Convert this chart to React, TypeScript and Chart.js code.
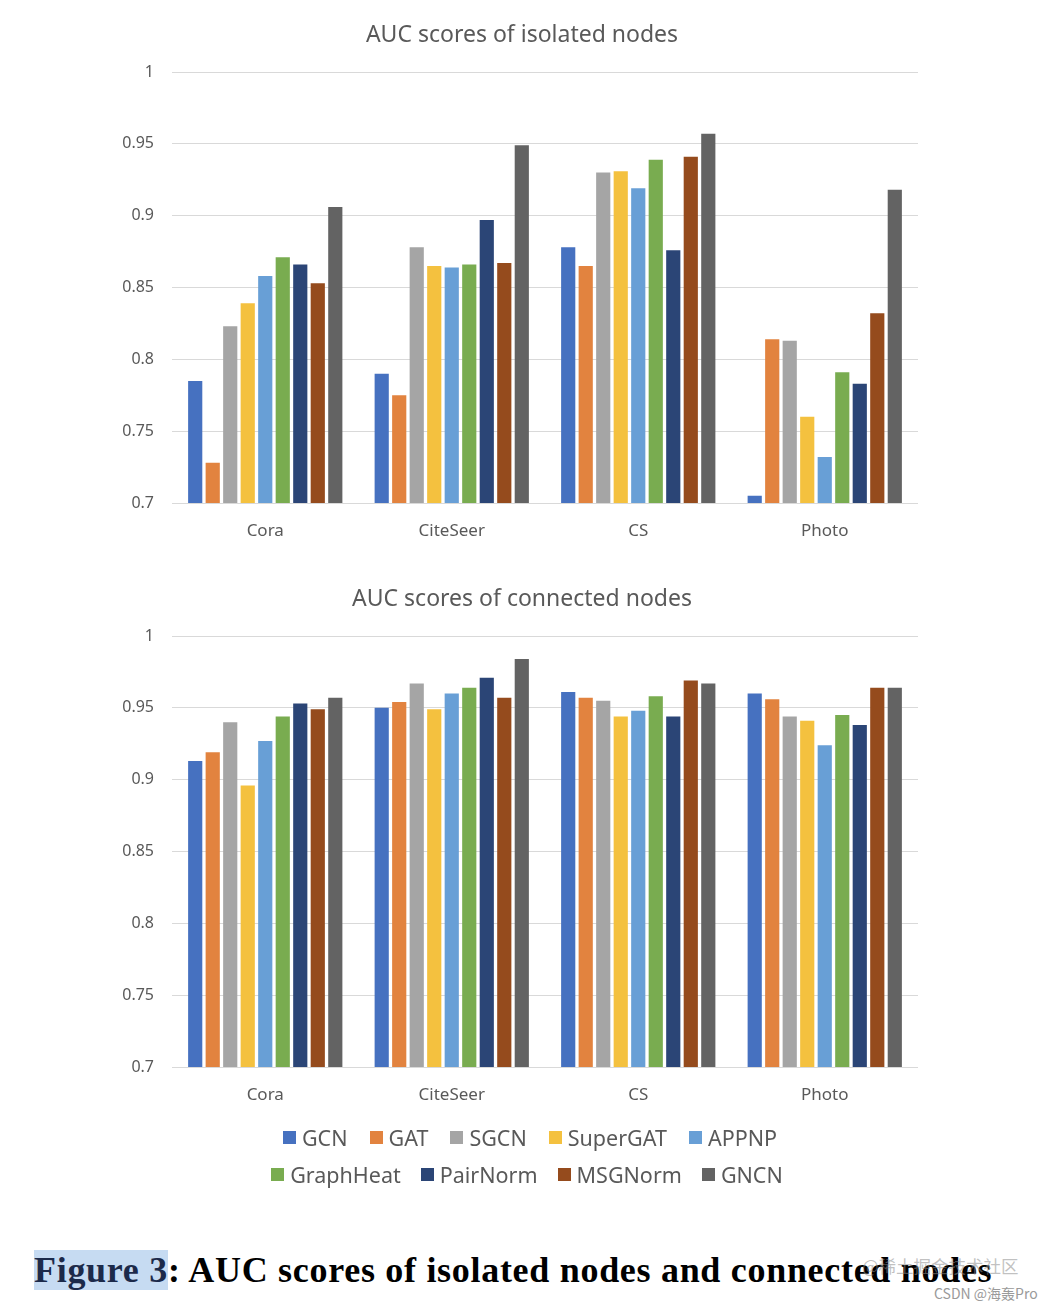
import React, { useEffect, useRef } from "react";
import { Chart, registerables } from "chart.js";

Chart.register(...registerables);

const categories = ["Cora", "CiteSeer", "CS", "Photo"];
const methods = ["GCN", "GAT", "SGCN", "SuperGAT", "APPNP", "GraphHeat", "PairNorm", "MSGNorm", "GNCN"];
const methodColors = ["#4671C0", "#E2833F", "#A5A5A5", "#F4C13F", "#689FD6", "#79AC50", "#2B4576", "#954B1D", "#636363"];
const yTicks = [0.7, 0.75, 0.8, 0.85, 0.9, 0.95, 1];

// AUC scores of isolated nodes (Cora, CiteSeer, CS, Photo)
const gcnIso = [0.785, 0.79, 0.878, 0.705];
const gatIso = [0.728, 0.775, 0.865, 0.814];
const sgcnIso = [0.823, 0.878, 0.93, 0.813];
const superGatIso = [0.839, 0.865, 0.931, 0.76];
const appnpIso = [0.858, 0.864, 0.919, 0.732];
const graphHeatIso = [0.871, 0.866, 0.939, 0.791];
const pairNormIso = [0.866, 0.897, 0.876, 0.783];
const msgNormIso = [0.853, 0.867, 0.941, 0.832];
const gncnIso = [0.906, 0.949, 0.957, 0.918];

// AUC scores of connected nodes (Cora, CiteSeer, CS, Photo)
const gcnCon = [0.913, 0.95, 0.961, 0.96];
const gatCon = [0.919, 0.954, 0.957, 0.956];
const sgcnCon = [0.94, 0.967, 0.955, 0.944];
const superGatCon = [0.896, 0.949, 0.944, 0.941];
const appnpCon = [0.927, 0.96, 0.948, 0.924];
const graphHeatCon = [0.944, 0.964, 0.958, 0.945];
const pairNormCon = [0.953, 0.971, 0.944, 0.938];
const msgNormCon = [0.949, 0.957, 0.969, 0.964];
const gncnCon = [0.957, 0.984, 0.967, 0.964];

const isolatedSeries = [gcnIso, gatIso, sgcnIso, superGatIso, appnpIso, graphHeatIso, pairNormIso, msgNormIso, gncnIso];
const connectedSeries = [gcnCon, gatCon, sgcnCon, superGatCon, appnpCon, graphHeatCon, pairNormCon, msgNormCon, gncnCon];

const FONT = "'Noto Sans', 'Noto Sans CJK KR', sans-serif";
const TEXT_GRAY = "#595959";

// shifts the title block horizontally so it sits where the reference has it
const titleShift = {
  id: "titleShift",
  afterLayout(chart: any) {
    const t = chart.titleBlock;
    if (t) {
      t.left += 27;
      t.right += 27;
    }
  },
};

function BarChart({ title, series, top }: { title: string; series: number[][]; top: number }) {
  const ref = useRef<HTMLCanvasElement | null>(null);
  useEffect(() => {
    if (!ref.current) return;
    const chart = new Chart(ref.current, {
      type: "bar",
      data: {
        labels: categories,
        datasets: methods.map((m, i) => ({
          label: m,
          data: series[i],
          backgroundColor: methodColors[i],
          borderWidth: 0,
          categoryPercentage: 0.845,
          barPercentage: 0.81,
        })),
      },
      options: {
        responsive: false,
        animation: false,
        devicePixelRatio: 1,
        layout: { padding: { left: 72, right: 136, top: 0, bottom: 7 } },
        plugins: {
          legend: { display: false },
          tooltip: { enabled: false },
          title: {
            display: true,
            text: title,
            color: TEXT_GRAY,
            font: { family: FONT, size: 23, weight: "normal", lineHeight: 1.2 },
            padding: { top: 22, bottom: 22.4 },
          },
        },
        scales: {
          x: {
            grid: { display: false },
            border: { display: false },
            ticks: {
              color: TEXT_GRAY,
              font: { family: FONT, size: 17 },
              padding: 10,
            },
            afterFit: (scale: any) => {
              scale.height = 50;
            },
          },
          y: {
            min: 0.7,
            max: 1,
            grid: { color: "#D9D9D9", lineWidth: 1, drawTicks: false },
            border: { display: false },
            afterBuildTicks: (scale: any) => {
              scale.ticks = yTicks.map((v) => ({ value: v }));
            },
            ticks: {
              color: TEXT_GRAY,
              font: { family: FONT, size: 16 },
              padding: 18,
              callback: (v: any) => String(Number(v)),
            },
            afterFit: (scale: any) => {
              scale.width = 100;
            },
          },
        },
      },
      plugins: [titleShift],
    } as any);
    return () => chart.destroy();
  }, [title, series]);
  return (
    <div style={{ position: "absolute", left: 0, top, width: 1054, height: 560 }}>
      <canvas ref={ref} width={1054} height={560} style={{ display: "block" }} />
    </div>
  );
}

function Legend() {
  const rows = [methods.slice(0, 5), methods.slice(5)];
  return (
    <div style={{ position: "absolute", left: 0, top: 1119, width: 1054 }}>
      {rows.map((row, r) => (
        <div
          key={r}
          style={{
            display: "flex",
            justifyContent: "center",
            alignItems: "center",
            height: 37,
            paddingLeft: r === 0 ? 6 : 0,
          }}
        >
          {row.map((m) => {
            const i = methods.indexOf(m);
            return (
              <div key={m} style={{ display: "flex", alignItems: "center", margin: r === 0 ? "0 11px" : "0 10px" }}>
                <span
                  style={{
                    display: "inline-block",
                    width: 13,
                    height: 13,
                    background: methodColors[i],
                    marginRight: 6,
                  }}
                />
                <span style={{ fontFamily: FONT, fontSize: 21.5, color: TEXT_GRAY, lineHeight: "37px" }}>{m}</span>
              </div>
            );
          })}
        </div>
      ))}
    </div>
  );
}

export default function App() {
  useEffect(() => {
    document.body.style.margin = "0";
    document.body.style.background = "#ffffff";
  }, []);
  return (
    <div style={{ position: "relative", width: 1054, height: 1308, background: "#fff", overflow: "hidden" }}>
      <BarChart title="AUC scores of isolated nodes" series={isolatedSeries} top={0} />
      <BarChart title="AUC scores of connected nodes" series={connectedSeries} top={564} />
      <Legend />
      <div
        style={{
          position: "absolute",
          left: 34,
          top: 1249,
          fontFamily: "'Liberation Serif', 'DejaVu Serif', serif",
          fontWeight: "bold",
          fontSize: 36,
          letterSpacing: "0.7px",
          lineHeight: "42px",
          color: "#000",
          whiteSpace: "nowrap",
        }}
      >
        <span style={{ background: "#C6DBF2", color: "#1C2A4A" }}>Figure 3</span>: AUC scores of isolated nodes and connected nodes
      </div>
      <div
        style={{
          position: "absolute",
          left: 862,
          top: 1253,
          fontFamily: "'Noto Sans CJK SC', sans-serif",
          fontSize: 17.5,
          color: "rgba(140,140,140,0.55)",
          whiteSpace: "nowrap",
        }}
      >
        @稀土掘金技术社区
      </div>
      <div
        style={{
          position: "absolute",
          left: 934,
          top: 1283,
          fontFamily: "'Noto Sans CJK SC', sans-serif",
          fontSize: 14,
          color: "#9A9A9A",
          whiteSpace: "nowrap",
        }}
      >
        CSDN @海轰Pro
      </div>
    </div>
  );
}
